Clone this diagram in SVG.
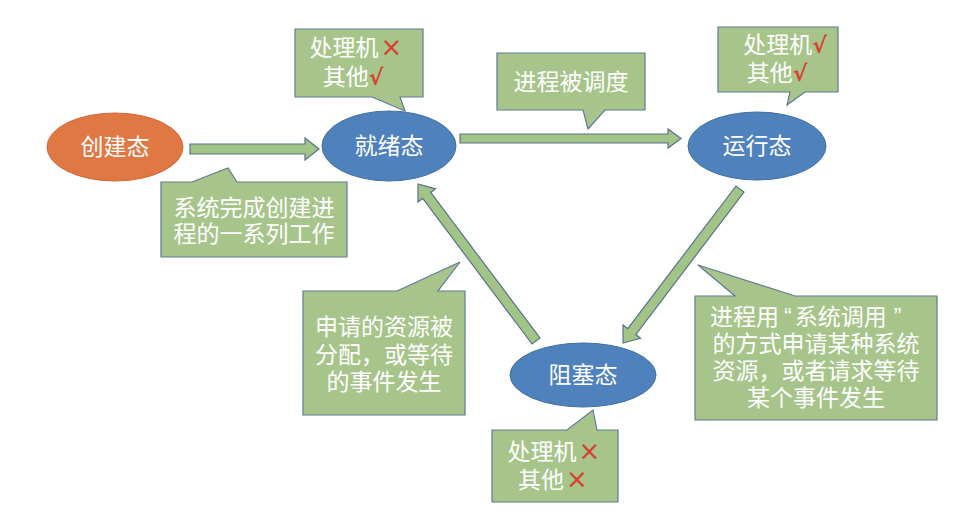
<svg xmlns="http://www.w3.org/2000/svg" width="972" height="515" viewBox="0 0 972 515">
<style>
  .bg { fill: #ffffff; }
  .state { stroke: #41719c; stroke-width: 1; }
  .blue { fill: #4f81bd; }
  .orange { fill: #e07844; stroke: #d0683a; }
  .callout { fill: #a7c58b; stroke: #5e7a96; stroke-width: 1.2; }
  .arrow { fill: #a2c487; stroke: #58728c; stroke-width: 1.2; stroke-linejoin: miter; }
  text { font-family: "Liberation Sans", "Noto Sans CJK SC", sans-serif; fill: #ffffff; font-size: 23px; text-anchor: middle; }
  .start { text-anchor: start; }
  .red { fill: #d8412f; font-family: "DejaVu Sans", sans-serif; }
  .chk { fill: #d8412f; font-weight: bold; font-family: "DejaVu Sans", sans-serif; }
</style>
<rect class="bg" x="0" y="0" width="972" height="515"/>

<g id="connectors">
  <polygon class="arrow" points="190,144 305,144 305,138 319,149 305,160 305,154 190,154"/>
  <polygon class="arrow" points="460,134 668,134 668,129 681,138.5 668,148 668,143 460,143"/>
  <g transform="translate(740,189) rotate(127.2)">
    <polygon class="arrow" points="0,-5 179,-5 179,-11 193.4,0 179,11 179,5 0,5"/>
  </g>
  <g transform="translate(536,341) rotate(-126.9)">
    <polygon class="arrow" points="0,-5 182,-5 182,-11 196.4,0 182,11 182,5 0,5"/>
  </g>
</g>

<g id="node-create">
  <ellipse class="orange" cx="115" cy="147" rx="68" ry="34"/>
  <text x="115" y="155">创建态</text>
</g>
<g id="node-ready">
  <ellipse class="state blue" cx="389" cy="146" rx="67" ry="35"/>
  <text x="389" y="154">就绪态</text>
</g>
<g id="node-running">
  <ellipse class="state blue" cx="757" cy="146" rx="69" ry="34"/>
  <text x="757" y="154">运行态</text>
</g>
<g id="node-blocked">
  <ellipse class="state blue" cx="583" cy="375" rx="73" ry="32"/>
  <text x="583" y="383">阻塞态</text>
</g>

<g id="callout-ready">
  <path class="callout" d="M295,29 H423 V97 H400 L405,111 L372,97 H295 Z"/>
  <text x="356" y="56">处理机<tspan class="red" dx="2" font-size="26">×</tspan></text>
  <text x="353" y="85">其他<tspan class="chk" font-size="22">√</tspan></text>
</g>

<g id="callout-create">
  <path class="callout" d="M161,182 H192 L228,168 L237,182 H347 V257 H161 Z"/>
  <text x="254" y="216">系统完成创建进</text>
  <text x="254" y="242">程的一系列工作</text>
</g>

<g id="callout-dispatch">
  <path class="callout" d="M497,53 H645 V110 H605 L588,129 L583,110 H497 Z"/>
  <text x="571" y="90">进程被调度</text>
</g>

<g id="callout-running">
  <path class="callout" d="M718,27 H838 V92 H805 L787,105 L790,92 H718 Z"/>
  <text x="785" y="53">处理机<tspan class="chk" font-size="22">√</tspan></text>
  <text x="777" y="81">其他<tspan class="chk" font-size="22">√</tspan></text>
</g>

<g id="callout-wakeup">
  <path class="callout" d="M303,291 H397 L460,262 L438,291 H465 V415 H303 Z"/>
  <text x="384" y="335">申请的资源被</text>
  <text x="384" y="363">分配，或等待</text>
  <text x="384" y="390">的事件发生</text>
</g>

<g id="callout-blocked">
  <path class="callout" d="M492,430 H567 L593,410 L597,430 H618 V502 H492 Z"/>
  <text x="554" y="460">处理机<tspan class="red" dx="2" font-size="26">×</tspan></text>
  <text x="553" y="488">其他<tspan class="red" dx="2" font-size="26">×</tspan></text>
</g>

<g id="callout-block">
  <path class="callout" d="M695,296 H735 L698,265 L795,296 H937 V420 H695 Z"/>
  <text class="start" x="710" y="325">进程用<tspan dx="5">“</tspan><tspan dx="3">系统调用</tspan><tspan dx="7">”</tspan></text>
  <text x="816" y="352">的方式申请某种系统</text>
  <text x="816" y="379">资源，或者请求等待</text>
  <text x="816" y="406">某个事件发生</text>
</g>
</svg>
